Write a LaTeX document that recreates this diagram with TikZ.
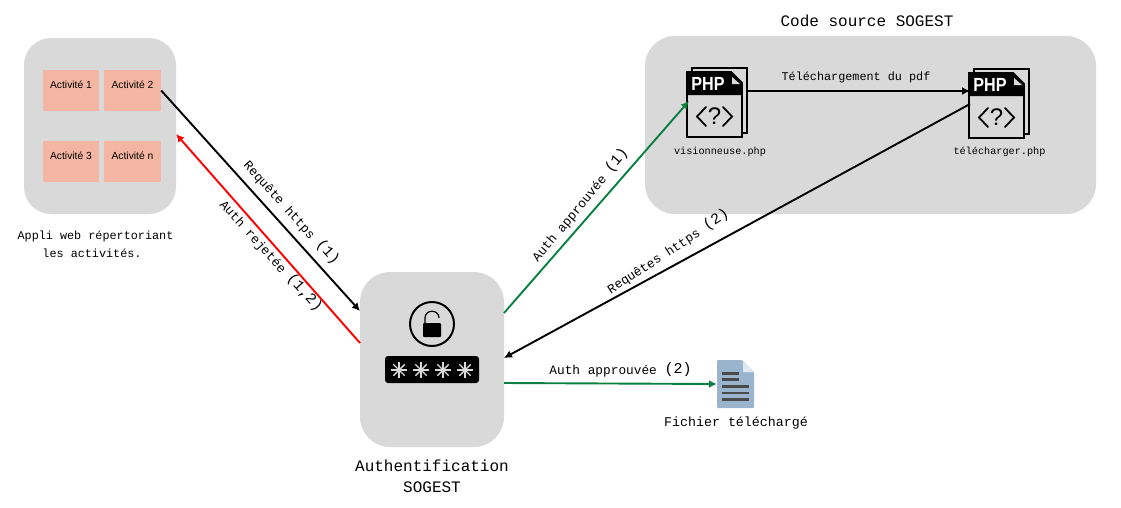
\documentclass[tikz,border=0pt]{standalone}
\usepackage{fontspec}
\setmainfont{Liberation Sans}
\newfontfamily\monof{Liberation Mono}
\usetikzlibrary{arrows.meta}
\definecolor{boxgray}{HTML}{D9D9D9}
\definecolor{actcol}{HTML}{F4B6A2}
\definecolor{okgreen}{HTML}{0A8040}
\definecolor{filecol}{HTML}{9AB4CE}
\definecolor{filedark}{HTML}{4A4A4A}
\newcommand{\fsz}[1]{\fontsize{#1}{#1}\selectfont}
\newcommand{\bp}[1]{\raisebox{1pt}{\fsz{15}#1}}
\tikzset{
  groupbox/.style={fill=boxgray,draw=none,rounded corners=#1,inner sep=0pt,minimum width=0pt},
  actbox/.style={fill=actcol,draw=none,inner sep=0pt,minimum height=41pt},
  acttext/.style={font=\fsz{10.3}},
  link/.style={line width=1.9pt,-{Latex[length=8pt,width=8pt]}},
  titletext/.style={font=\monof\fsz{16},align=center,inner sep=0pt},
  smalltext/.style={font=\monof\fsz{11.8},align=center,inner sep=0pt},
  tinytext/.style={font=\monof\fsz{10.2},inner sep=0pt},
  linktext/.style={font=\monof\fsz{12.8},inner sep=0pt},
  sheet/.style={fill=boxgray,draw=black,line width=1.8pt,line join=miter},
}
\newcommand{\phpicon}[3]{% name, x, y of front sheet's top-left corner
  \begin{scope}[shift={(#2,#3)}]
    \draw[sheet] (5,-4) rectangle (60,61);
    \draw[sheet] (0,0) -- (44,0) -- (55,11) -- (55,65) -- (0,65) -- cycle;
    \fill[black] (0,0) -- (44,0) -- (55,11) -- (55,23) -- (0,23) -- cycle;
    \fill[boxgray] (45,5) -- (53,12) -- (45,12) -- cycle;
    \node[text=white,inner sep=0pt,font=\bfseries\fsz{19},xscale=0.85] (#1h) at (21,11.5) {PHP};
    \node[inner sep=0pt,font=\fsz{24}] (#1q) at (27.5,44) {?};
    \draw[line width=1.8pt,line cap=round,line join=miter] (19,35) -- (10,44.5) -- (19,54);
    \draw[line width=1.8pt,line cap=round,line join=miter] (36,35) -- (45,44.5) -- (36,54);
    \coordinate (#1) at (27.5,32.5);
  \end{scope}
}
\begin{document}
\begin{tikzpicture}[x=1pt,y=-1pt]
\useasboundingbox (0,0) rectangle (1121,507);
% group boxes
\node[groupbox=27pt,minimum width=152pt,minimum height=176pt] (web) at (100,126) {};
\node[groupbox=30pt,minimum width=144pt,minimum height=175pt] (auth) at (432,359.5) {};
\node[groupbox=30pt,minimum width=451pt,minimum height=178pt] (src) at (870.5,125) {};
% activities
\node[actbox,minimum width=56pt,label={[acttext,yshift=5.5pt]center:Activité 1}] (a1) at (71,90.5) {};
\node[actbox,minimum width=57pt,label={[acttext,yshift=5.5pt]center:Activité 2}] (a2) at (132.5,90.5) {};
\node[actbox,minimum width=56pt,label={[acttext,yshift=5.5pt]center:Activité 3}] (a3) at (71,161.5) {};
\node[actbox,minimum width=57pt,label={[acttext,yshift=5.5pt]center:Activité n}] (an) at (132.5,161.5) {};
% texts
\node[titletext] (srct) at (867,20.5) {Code source SOGEST};
\node[smalltext] (applia) at (95.5,236) {Appli web répertoriant};
\node[smalltext] (applib) at (92,253) {les activités.};
\node[titletext] (authta) at (432,465.5) {Authentification};
\node[titletext] (authtb) at (432,487) {SOGEST};
\node[tinytext] (visio) at (720,152) {visionneuse.php};
\node[tinytext] (tele) at (999.5,152) {télécharger.php};
\node[inner sep=0pt,font=\monof\fsz{13.3}] (fich) at (736,423.5) {Fichier téléchargé};
% php icons
\phpicon{phpa}{687}{72}
\phpicon{phpb}{969}{73}
% lock
\node[circle,draw=black,line width=2pt,minimum size=44pt,inner sep=0pt] (lock) at (432,324) {};
\fill[black,rounded corners=1pt] (423,323) rectangle (441,337);
\draw[line width=1.2pt] (425,323) -- (425,318) .. controls (425,309) and (439,309) .. (439,318);
% password
\node[fill=black,rounded corners=3pt,minimum width=94pt,minimum height=27pt,inner sep=0pt] (pwd) at (432,369.5) {};
\foreach \sx in {399,421,443,465}{
  \foreach \a in {0,45,90,135}{
    \draw[boxgray,line width=1.4pt,shift={(\sx,370)},rotate=\a] (-8,0) -- (8,0);
  }
}
% file icon
\node[inner sep=0pt,minimum width=37pt,minimum height=48pt] (file) at (735.5,384) {};
\fill[filecol,rounded corners=1pt] (717,360) -- (742,360) -- (754,372) -- (754,408) -- (717,408) -- cycle;
\fill[white!70!filecol] (743,360) -- (754,372) -- (743,372) -- cycle;
\foreach \yy/\xe in {373.3/739,379.7/739,386.3/749,393/749,399.3/749}{
  \draw[filedark,line width=2.8pt] (722,\yy) -- (\xe,\yy);
}
% ports
\coordinate (webout) at (a2.east);
\coordinate (authinA) at (360,311);
\coordinate (authoutR) at (360,343);
\coordinate (webinR) at (176,134);
\coordinate (authoutG) at (504,313);
\coordinate (phpaIn) at (689,101);
\coordinate (phpaOut) at (747,91);
\coordinate (phpbIn) at (970,91);
\coordinate (phpbOut) at (970,104);
\coordinate (authinB) at (504,358);
\coordinate (authoutF) at (504,383);
% connectors
\draw[link,black] (webout) -- (authinA);
\draw[link,red] (authoutR) -- (webinR);
\draw[link,okgreen] (authoutG) -- (phpaIn);
\draw[link,black] (phpaOut) -- (phpbIn);
\draw[link,black] (phpbOut) -- (authinB);
\draw[link,okgreen] (authoutF) -- (file.west);
% link labels
\node[linktext,rotate=-48] (l1) at (291.5,212.5) {Requête https \bp{(1)}};
\node[linktext,rotate=-48] (l2) at (271,256) {Auth rejetée \bp{(1,2)}};
\node[linktext,rotate=50] (l3) at (580,205) {Auth approuvée \bp{(1)}};
\node[linktext,rotate=33] (l4) at (668,251.5) {Requêtes https \bp{(2)}};
\node[linktext] (l5) at (620.5,369.5) {Auth approuvée \bp{(2)}};
\node[smalltext] (l6) at (856,77.5) {Téléchargement du pdf};
\end{tikzpicture}
\end{document}
